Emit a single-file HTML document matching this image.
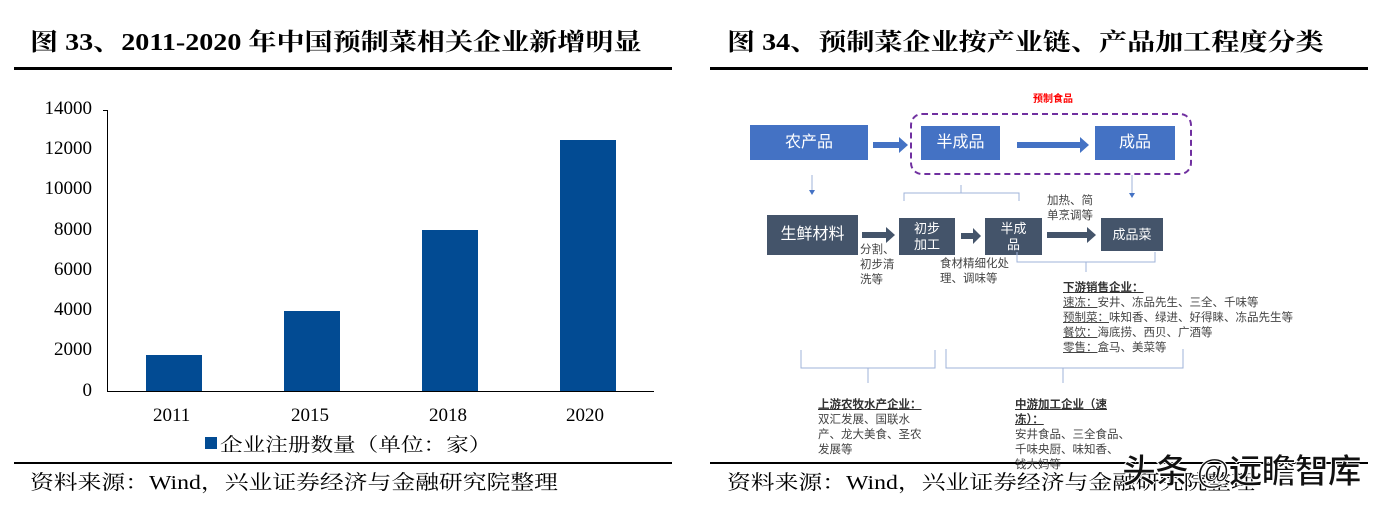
<!DOCTYPE html>
<html><head><meta charset="utf-8"><style>
body{margin:0;width:1392px;height:506px;background:#fff;position:relative;overflow:hidden;font-family:"Liberation Serif","Noto Serif CJK SC",serif}
.a{position:absolute;white-space:nowrap}
.t{font-size:24px;font-weight:bold;top:22px;transform-origin:0 50%;transform:scaleX(1.17)}
.hl{position:absolute;height:3px;background:#000}
.yl{font-size:19px;right:1300px}
.bar{position:absolute;background:#024b93;width:56px}
.xl{font-size:19px;top:405px}
.bx{position:absolute;color:#fff;font-family:"Liberation Sans","Noto Sans CJK SC",sans-serif;display:flex;align-items:center;justify-content:center;text-align:center;line-height:1.2}
.s{font-family:"Liberation Sans","Noto Sans CJK SC",sans-serif;font-size:11.5px;color:#444;line-height:15px}
.src{font-size:20px;top:466px;transform-origin:0 50%;transform:scaleX(1.19)}
</style></head><body>
<div class="a t" style="left:30px">图 33、2011-2020 年中国预制菜相关企业新增明显</div>
<div class="a t" style="left:727px">图 34、预制菜企业按产业链、产品加工程度分类</div>
<div class="hl" style="left:14px;width:658px;top:67px"></div>
<div class="hl" style="left:710px;width:658px;top:67px"></div>

<div class="a yl" style="top:98px">14000</div>
<div class="a yl" style="top:138px">12000</div>
<div class="a yl" style="top:178px">10000</div>
<div class="a yl" style="top:219px">8000</div>
<div class="a yl" style="top:259px">6000</div>
<div class="a yl" style="top:299px">4000</div>
<div class="a yl" style="top:339px">2000</div>
<div class="a yl" style="top:380px">0</div>
<div style="position:absolute;left:107px;top:110px;width:1px;height:281px;background:#000"></div>
<div style="position:absolute;left:103px;top:110px;width:5px;height:1px;background:#000"></div>
<div style="position:absolute;left:107px;top:391px;width:547px;height:1px;background:#000"></div>
<div class="bar" style="left:146px;top:355px;height:36px"></div>
<div class="bar" style="left:284px;top:311px;height:80px"></div>
<div class="bar" style="left:422px;top:230px;height:161px"></div>
<div class="bar" style="left:560px;top:140px;height:251px"></div>
<div class="a xl" style="left:153px">2011</div>
<div class="a xl" style="left:291px">2015</div>
<div class="a xl" style="left:429px">2018</div>
<div class="a xl" style="left:566px">2020</div>
<div style="position:absolute;left:205px;top:437px;width:12px;height:12px;background:#024b93"></div>
<div class="a" style="left:220px;top:430px;font-size:19px;transform-origin:0 50%;transform:scaleX(1.19)">企业注册数量（单位：家）</div>
<div class="hl" style="left:14px;width:658px;top:462px;height:2px"></div>
<div class="hl" style="left:710px;width:658px;top:462px;height:2px"></div>
<div class="a src" style="left:30px">资料来源：Wind，兴业证券经济与金融研究院整理</div>
<div class="a src" style="left:727px">资料来源：Wind，兴业证券经济与金融研究院整理</div>

<div class="a" style="left:1033px;top:90px;font-size:10px;color:#f00;font-weight:bold;font-family:'Liberation Sans','Noto Sans CJK SC',sans-serif">预制食品</div>
<div style="position:absolute;left:910px;top:113px;width:278px;height:58px;border:2.5px dashed #7030a0;border-radius:12px"></div>
<div class="bx" style="left:750px;top:125px;width:118px;height:35px;background:#4472c4;font-size:16px">农产品</div>
<div class="bx" style="left:921px;top:126px;width:79px;height:34px;background:#4472c4;font-size:16px">半成品</div>
<div class="bx" style="left:1095px;top:126px;width:80px;height:34px;background:#4472c4;font-size:16px">成品</div>
<div class="bx" style="left:767px;top:215px;width:91px;height:40px;background:#44546a;font-size:16px">生鲜材料</div>
<div class="bx" style="left:899px;top:218px;width:56px;height:37px;background:#44546a;font-size:13px">初步<br>加工</div>
<div class="bx" style="left:985px;top:218px;width:57px;height:37px;background:#44546a;font-size:13px">半成<br>品</div>
<div class="bx" style="left:1101px;top:218px;width:62px;height:33px;background:#44546a;font-size:13px">成品菜</div>
<svg style="position:absolute;left:0;top:0" width="1392" height="506">
<g fill="#4472c4">
<rect x="873" y="142" width="26" height="6"/><polygon points="899,137 908,145 899,153"/>
<rect x="1017" y="142" width="63" height="6"/><polygon points="1080,137 1089,145 1080,153"/>
</g>
<g fill="#44546a">
<rect x="862" y="232" width="24" height="6"/><polygon points="886,227 895,235 886,243"/>
<rect x="961" y="233" width="12" height="6"/><polygon points="973,228 981,236 973,244"/>
<rect x="1047" y="232" width="40" height="6"/><polygon points="1087,227 1096,235 1087,243"/>
</g>
<g stroke="#9fb3d9" fill="none" stroke-width="1">
<path d="M812,175V192M1132,175V195"/>
<path d="M904,201V193H1019V201M961,185V193"/>
<path d="M1017,252V262H1155V252M1086,262V272"/>
<path d="M801,350V368H935V350M868,368V383"/>
<path d="M946,349V368H1183V349M1063,368V383"/>
</g>
<g fill="#4472c4"><polygon points="809,190 815,190 812,195"/><polygon points="1129,193 1135,193 1132,198"/></g>
</svg>
<div class="a s" style="left:1047px;top:194px">加热、简<br>单烹调等</div>
<div class="a s" style="left:860px;top:243px">分割、<br>初步清<br>洗等</div>
<div class="a s" style="left:940px;top:257px">食材精细化处<br>理、调味等</div>
<div class="a s" style="left:1063px;top:281px"><b style="text-decoration:underline;color:#333">下游销售企业：</b><br><u>速冻：</u>安井、冻品先生、三全、千味等<br><u>预制菜：</u>味知香、绿进、好得睐、冻品先生等<br><u>餐饮：</u>海底捞、西贝、广酒等<br><u>零售：</u>盒马、美菜等</div>
<div class="a s" style="left:818px;top:398px"><b style="text-decoration:underline;color:#333">上游农牧水产企业：</b><br>双汇发展、国联水<br>产、龙大美食、圣农<br>发展等</div>
<div class="a s" style="left:1015px;top:398px"><b style="text-decoration:underline;color:#333">中游加工企业（速<br>冻）：</b><br>安井食品、三全食品、<br>千味央厨、味知香、<br>钱大妈等</div>
<div class="a" style="left:1122px;top:444px;font-size:34px;font-weight:bold;color:#111;font-family:'Liberation Sans','Noto Sans CJK SC',sans-serif;-webkit-text-stroke:1px #fff;letter-spacing:-1px">头条 @远瞻智库</div>
</body></html>
